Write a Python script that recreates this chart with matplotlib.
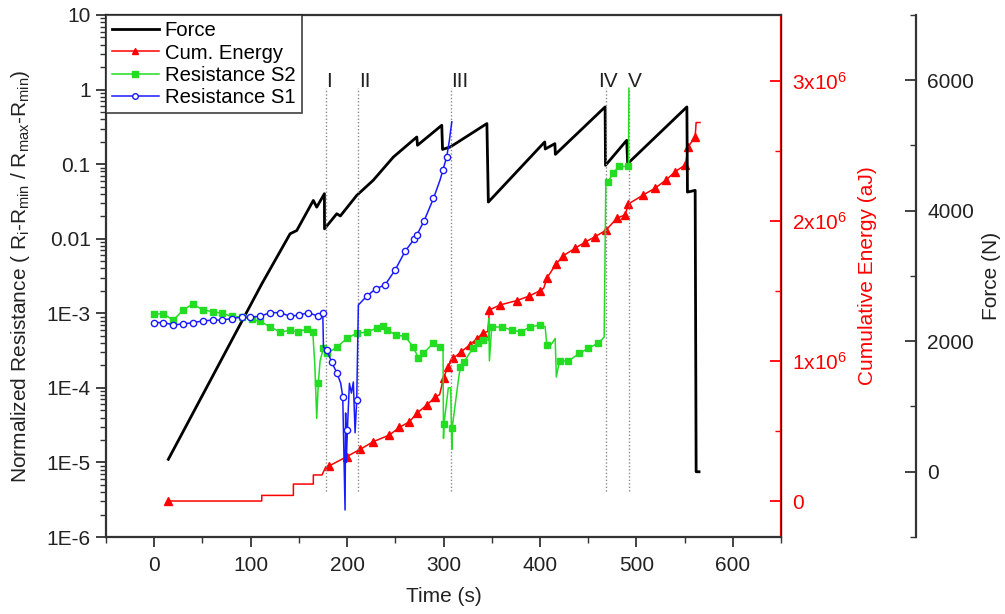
import numpy as np
import matplotlib
matplotlib.use("Agg")
import matplotlib.pyplot as plt

plt.rcParams['font.family'] = ['Liberation Sans', 'DejaVu Sans']
plt.rcParams['mathtext.fontset'] = 'custom'
plt.rcParams['mathtext.rm'] = 'Liberation Sans'
plt.rcParams['mathtext.it'] = 'Liberation Sans:italic'

# ---------------- data ----------------
force_t = [14.6, 111.5, 140.9, 147.8, 165, 168.5, 176.5, 176.6, 189.3, 193, 210, 227, 248,
           272.3, 273, 298.2, 299, 307, 345, 346.5, 400, 405, 405.5, 415.5, 416, 467.6,
           468, 490, 491, 552.4, 553, 561, 562, 565]
force_N = [190, 2878, 3647, 3697, 4158, 4055, 4261, 3723, 3954, 3920, 4235, 4465, 4823,
           5130, 5003, 5310, 4940, 4977, 5336, 4133, 4977, 5054, 4946, 5028, 4864, 5591,
           4696, 5080, 4722, 5591, 4286, 4312, 0, 0]

energy_t = [14, 111.5, 111.5, 144.3, 144.3, 165, 165, 174, 178, 181.3, 199.7, 213.5, 227.3,
            243.9, 254.3, 264.7, 272.3, 282.7, 291.3, 296, 300, 304.5, 310.3, 318.5, 327,
            335, 341.4, 346, 347.6, 358.7, 376, 389.1, 400.2, 404, 407.2, 416.8, 424.4,
            436.5, 446.9, 457.3, 468.3, 479.8, 488.4, 491.8, 507.4, 519.5, 531, 540.3,
            550.8, 554, 561, 562, 566]
energy_aJ = [0, 0, 0.04e6, 0.04e6, 0.121e6, 0.121e6, 0.186e6, 0.186e6, 0.245e6, 0.25e6,
             0.317e6, 0.369e6, 0.424e6, 0.471e6, 0.526e6, 0.566e6, 0.626e6, 0.686e6,
             0.741e6, 0.76e6, 0.876e6, 0.959e6, 1.02e6, 1.066e6, 1.114e6, 1.16e6, 1.202e6,
             1.21e6, 1.364e6, 1.40e6, 1.431e6, 1.464e6, 1.502e6, 1.52e6, 1.591e6, 1.693e6,
             1.752e6, 1.805e6, 1.848e6, 1.888e6, 1.932e6, 2.019e6, 2.043e6, 2.121e6,
             2.186e6, 2.234e6, 2.293e6, 2.352e6, 2.40e6, 2.531e6, 2.602e6, 2.702e6, 2.702e6]
energy_mark = [1, 0, 0, 0, 0, 0, 0, 0, 0, 1, 1, 1, 1, 1, 1, 1, 1, 1, 1, 0, 1, 1, 1, 1, 1,
               1, 1, 0, 1, 1, 1, 1, 1, 0, 1, 1, 1, 1, 1, 1, 1, 1, 1, 1, 1, 1, 1, 1, 1, 1, 1, 0, 0]

s2_t = [0, 9.5, 19.8, 30.2, 39.9, 50.3, 60.7, 70, 80.4, 90.8, 101.1, 109.8, 120.1, 130.5,
        140.9, 149.5, 158.2, 164.4, 166.5, 168.5, 170.2, 172, 175.4, 179, 189.3, 199.7,
        210, 220.4, 230.8, 237, 241.2, 250.8, 260.2, 268.8, 274, 279.2, 289.5, 296.5,
        299.5, 300, 300.5, 305, 307.5, 308.6, 309, 315.5, 317.5, 321, 330.4, 336.2, 341.4,
        346.5, 347, 347.6, 350, 360.5, 370.9, 380.2, 389.8, 400.2, 405.4, 407.2, 411,
        415.8, 417, 420.3, 429.6, 441, 450.3, 460.7, 466.6, 468.3, 470.4, 476.3, 481.5,
        491.8, 492.3]
s2_R = [9.8e-4, 9.8e-4, 8.1e-4, 1.11e-3, 1.33e-3, 1.11e-3, 1.05e-3, 1.0e-3, 9.1e-4, 8.9e-4,
        8.3e-4, 7.8e-4, 6.6e-4, 5.6e-4, 5.9e-4, 5.6e-4, 6.2e-4, 5.6e-4, 2.1e-4, 3.9e-5,
        1.17e-4, 2.3e-4, 3.4e-4, 2.9e-4, 3.5e-4, 4.6e-4, 5.4e-4, 5.6e-4, 6.3e-4, 6.8e-4,
        6.0e-4, 5.1e-4, 4.9e-4, 3.5e-4, 2.5e-4, 2.9e-4, 4.0e-4, 3.5e-4, 3.7e-4, 2.1e-5,
        3.3e-5, 1.0e-4, 1.0e-4, 1.5e-5, 2.9e-5, 1.3e-4, 1.9e-4, 2.2e-4, 3.4e-4, 4.0e-4,
        4.4e-4, 4.4e-4, 8.5e-4, 2.3e-4, 6.6e-4, 6.5e-4, 6.0e-4, 5.6e-4, 6.6e-4, 6.9e-4,
        6.6e-4, 3.7e-4, 3.7e-4, 4.6e-4, 1.4e-4, 2.3e-4, 2.3e-4, 2.9e-4, 3.4e-4, 4.0e-4,
        4.8e-4, 0.05, 0.058, 0.076, 0.093, 0.093, 1.04]
s2_mark = [1, 1, 1, 1, 1, 1, 1, 1, 1, 1, 1, 1, 1, 1, 1, 1, 1, 1, 0, 0, 1, 0, 1, 1, 1, 1,
           1, 1, 1, 1, 1, 1, 1, 1, 1, 1, 1, 1, 0, 0, 1, 0, 0, 0, 1, 0, 1, 1, 1, 1, 1,
           0, 0, 0, 1, 1, 1, 1, 1, 1, 0, 1, 0, 0, 0, 1, 1, 1, 1, 1, 0, 0, 1, 1, 1, 1, 0]

s1_t = [0, 9.5, 19.8, 30.2, 40.6, 50.3, 60.7, 70, 80.4, 90.8, 99.4, 109.8, 120.1, 130.5,
        140.9, 150.5, 159.9, 170.2, 174.8, 175.5, 179, 184.1, 189.3, 193.4, 195.5, 197.9,
        198.5, 199.2, 200.3, 202.4, 204.5, 206.5, 208.3, 210, 211.7, 220.4, 230, 239.4,
        249.8, 260.2, 269.9, 272.3, 279.9, 289.6, 296.5, 299.3, 303.4, 306.1, 308.6]
s1_R = [7.5e-4, 7.5e-4, 7.0e-4, 7.2e-4, 7.5e-4, 7.9e-4, 8.1e-4, 8.1e-4, 8.5e-4, 8.9e-4,
        8.9e-4, 9.1e-4, 1.02e-3, 1.02e-3, 9.1e-4, 9.5e-4, 1.02e-3, 9.1e-4, 1.0e-3, 3.5e-4,
        3.2e-4, 2.2e-4, 1.6e-4, 1.15e-4, 7.6e-5, 2.3e-6, 4.6e-5, 1.0e-5, 2.7e-5, 1.15e-4,
        8.5e-5, 1.2e-4, 2.5e-5, 6.9e-5, 1.29e-3, 1.7e-3, 2.14e-3, 2.4e-3, 3.8e-3, 6.8e-3,
        0.010, 0.0112, 0.0174, 0.0347, 0.0617, 0.083, 0.126, 0.209, 0.37]
s1_mark = [1, 1, 1, 1, 1, 1, 1, 1, 1, 1, 1, 1, 1, 1, 1, 1, 1, 1, 1, 0, 1, 1, 1, 0, 1, 0,
           0, 0, 1, 0, 0, 0, 0, 1, 0, 1, 1, 1, 1, 1, 1, 1, 1, 1, 0, 1, 1, 0, 0]

event_labels = ['I', 'II', 'III', 'IV', 'V']
event_t = [178, 211.7, 308, 468.3, 492.5]
event_label_t = [178, 212.5, 307.5, 460.7, 491.5]

# ---------------- figure ----------------
fig = plt.figure(figsize=(10.05, 6.14), dpi=100)
ax = fig.add_axes([0.1055, 0.1254, 0.6716, 0.8502])
ax2 = ax.twinx()
ax3 = ax.twinx()

spine_c = '#333333'
red = '#ff0000'
green = '#22dd22'
blue = '#1a1aff'

# event lines
ax.vlines(event_t, 4.2e-6, 1.05, colors='#8a8a8a', linestyles=(0, (1, 1.5)), linewidth=1.0, zorder=1)
for lab, x in zip(event_labels, event_label_t):
    ax.text(x, 1.3, lab, fontsize=15, ha='left', va='center', color='#222222')

# resistance series
l_s2, = ax.plot(s2_t, s2_R, color=green, lw=1.1, marker='s', ms=4.2,
                markevery=[bool(m) for m in s2_mark], label='Resistance S2', zorder=3)
l_s1, = ax.plot(s1_t, s1_R, color=blue, lw=1.1, marker='o', ms=4.5, mfc='white', mew=1.0,
                markevery=[bool(m) for m in s1_mark], label='Resistance S1', zorder=3)

# energy
l_e, = ax2.plot(energy_t, energy_aJ, color=red, lw=1.1, marker='^', ms=5.5,
                markevery=[bool(m) for m in energy_mark], label='Cum. Energy', zorder=3)

# force
l_f, = ax3.plot(force_t, force_N, color='black', lw=2.0, label='Force', zorder=4)

# ---------------- axes styling ----------------
ax.set_yscale('log')
ax.set_ylim(1e-6, 10)
ax.set_xlim(-50, 650)
ax.set_xticks([0, 100, 200, 300, 400, 500, 600])
ax.set_xticks(np.arange(-50, 651, 100), minor=True)
ax.set_yticks([1e-6, 1e-5, 1e-4, 1e-3, 0.01, 0.1, 1, 10])
ax.set_yticklabels(['1E-6', '1E-5', '1E-4', '1E-3', '0.01', '0.1', '1', '10'])
ax.tick_params(axis='both', which='major', direction='out', length=7, width=1.3,
               labelsize=15, color=spine_c, labelcolor='#222222')
ax.tick_params(axis='y', which='major', pad=4)
ax.tick_params(axis='x', which='major', pad=7)
ax.tick_params(axis='both', which='minor', direction='out', length=4, width=1.0, color=spine_c)
ax.set_xlabel('Time (s)', fontsize=15, color='#222222', labelpad=8)
ax.set_ylabel(r'Normalized Resistance ( R$_\mathregular{i}$-R$_\mathregular{min}$ / R$_\mathregular{max}$-R$_\mathregular{min}$)',
              fontsize=15, color='#222222')
ax.yaxis.set_label_coords(-0.11, 0.5)
for s in ['left', 'bottom', 'top']:
    ax.spines[s].set_color(spine_c)
    ax.spines[s].set_linewidth(1.6)

ax2.set_ylim(-0.257e6, 3.47e6)
ax2.set_yticks([0, 1e6, 2e6, 3e6])
ax2.set_yticklabels(['0', r'1x10$^\mathregular{6}$', r'2x10$^\mathregular{6}$', r'3x10$^\mathregular{6}$'])
ax2.set_yticks(np.arange(0.5e6, 3.5e6, 1e6), minor=True)
ax2.tick_params(axis='y', which='major', direction='in', length=8, width=1.3, colors=red,
                labelsize=15, pad=8)
ax2.tick_params(axis='y', which='minor', direction='in', length=4, width=1.0, colors=red)
ax2.spines['right'].set_color(red)
ax2.spines['right'].set_linewidth(1.6)
for s in ['left', 'top', 'bottom']:
    ax2.spines[s].set_visible(False)
ax2.set_ylabel('Cumulative Energy (aJ)', fontsize=15, color=red)
ax2.yaxis.set_label_coords(1.114, 0.5)

ax3.spines['right'].set_position(('axes', 1.2))
ax3.set_ylim(-1000, 7000)
ax3.set_yticks([0, 2000, 4000, 6000])
ax3.set_yticks([-1000, 1000, 3000, 5000, 7000], minor=True)
ax3.tick_params(axis='y', which='major', direction='in', length=8, width=1.3, color=spine_c,
                labelcolor='#222222', labelsize=15, pad=8)
ax3.tick_params(axis='y', which='minor', direction='in', length=4, width=1.0, color=spine_c)
ax3.spines['right'].set_color(spine_c)
ax3.spines['right'].set_linewidth(1.6)
for s in ['left', 'top', 'bottom']:
    ax3.spines[s].set_visible(False)
ax3.set_ylabel('Force (N)', fontsize=15, color='#222222')
ax3.yaxis.set_label_coords(1.298, 0.5)

ax.set_zorder(ax3.get_zorder() + 1)
ax.patch.set_visible(False)

leg = ax.legend(handles=[l_f, l_e, l_s2, l_s1], loc='upper left', bbox_to_anchor=(0, 1),
                borderaxespad=0, fontsize=14.6, frameon=True, fancybox=False,
                handlelength=2.3, handletextpad=0.3, labelspacing=0.17, borderpad=0.3,
                numpoints=1, markerscale=0.9)
leg.get_frame().set_edgecolor('#222222')
leg.get_frame().set_linewidth(1.3)
leg.set_zorder(10)

fig.savefig('out.png', dpi=100)
